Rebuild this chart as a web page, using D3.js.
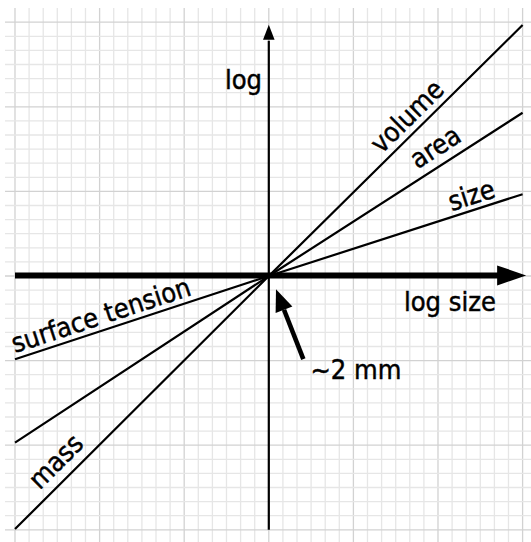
<!DOCTYPE html>
<html>
<head>
<meta charset="utf-8">
<script src="https://cdn.jsdelivr.net/npm/d3@7"></script>
<style>
  html, body { margin: 0; padding: 0; background: #ffffff; }
  svg { display: block; }
  text { font-family: "DejaVu Sans Condensed", "DejaVu Sans", sans-serif; font-stretch: condensed; fill: #000; stroke: #000; stroke-width: 0.45px; }
</style>
</head>
<body>
<script>
// ---- data (log-log units: x = log size, y = log quantity) ----
const xEnds = [-18, 18];
const seriesNames = ["volume", "area", "size"];
const volumeMass = [-17.95, 17.8];      // slope ~1  (volume right, mass left)
const areaVals = [-11.82, 11.58];       // slope ~2/3
const sizeTension = [-5.9, 5.8];        // slope ~1/3 (size right, surface tension left)
const labelTexts = ["volume", "area", "size", "surface tension", "mass"];
const labelAt = [8.35, 10.9, 13.1, -17.87, -15.75];   // position along x (log units)
const axisLabels = ["log", "log size", "~2 mm"];

const W = 531, H = 542;
const svg = d3.select("body").append("svg").attr("width", W).attr("height", H);
svg.append("rect").attr("width", W).attr("height", H).attr("fill", "#fff");

const x = d3.scaleLinear().domain([-18, 18]).range([15, 522.6]);
const y = d3.scaleLinear().domain([-18, 18]).range([529.8, 22.2]);

// ---- grid ----
const gridLeft = 5, gridTop = 8, gridRight = W, gridBottom = H;
const gx = d3.range(-18, 19);
const gy = d3.range(-19, 19);
const grid = svg.append("g");
grid.selectAll("line.v").data(gx).join("line")
  .attr("x1", d => x(d)).attr("x2", d => x(d))
  .attr("y1", gridTop).attr("y2", gridBottom)
  .attr("stroke", d => (d % 6 === 0) ? "#d2d2d2" : "#e6e6e6")
  .attr("stroke-width", 1.3);
grid.selectAll("line.h").data(gy).join("line")
  .attr("y1", d => y(d)).attr("y2", d => y(d))
  .attr("x1", gridLeft).attr("x2", gridRight)
  .attr("stroke", d => (d % 6 === 0) ? "#d2d2d2" : "#e6e6e6")
  .attr("stroke-width", 1.3);

// ---- lines ----
const series = [volumeMass, areaVals, sizeTension];
const lineGen = d3.line().x(d => x(d[0])).y(d => y(d[1]));
svg.append("g").selectAll("path").data(series).join("path")
  .attr("d", v => lineGen([[xEnds[0], v[0]], [0, 0], [xEnds[1], v[1]]]))
  .attr("fill", "none").attr("stroke", "#000").attr("stroke-width", 2.2);

// ---- axes ----
const ox = x(0), oy = y(0) - 0.6;
// horizontal thick axis with arrow
const hTip = x(18.25), hBase = hTip - 29;
svg.append("line").attr("x1", x(-18)).attr("x2", hBase + 1).attr("y1", oy).attr("y2", oy)
  .attr("stroke", "#000").attr("stroke-width", 6);
svg.append("path").attr("d", `M${hTip},${oy} L${hBase},${oy - 10} L${hBase},${oy + 10} Z`).attr("fill", "#000");
// vertical axis with arrow
const vTip = y(17.82), vBase = vTip + 15;
svg.append("line").attr("x1", ox).attr("x2", ox).attr("y1", y(-18)).attr("y2", vBase + 1)
  .attr("stroke", "#000").attr("stroke-width", 2.2);
svg.append("path").attr("d", `M${ox},${vTip} L${ox - 5.8},${vBase} L${ox + 5.8},${vBase} Z`).attr("fill", "#000");

// ---- pointer arrow to the origin (~2 mm) ----
const pTip = [x(0.51), y(-0.94)], pTail = [x(2.45), y(-5.9)];
const ang = Math.atan2(pTip[1] - pTail[1], pTip[0] - pTail[0]);
const headLen = 22, headHalf = 9;
const bx = pTip[0] - headLen * Math.cos(ang), by = pTip[1] - headLen * Math.sin(ang);
const nx = -Math.sin(ang), ny = Math.cos(ang);
svg.append("line").attr("x1", pTail[0]).attr("y1", pTail[1]).attr("x2", bx).attr("y2", by)
  .attr("stroke", "#000").attr("stroke-width", 4.6);
svg.append("path")
  .attr("d", `M${pTip[0]},${pTip[1]} L${bx + nx * headHalf},${by + ny * headHalf} L${bx - nx * headHalf},${by - ny * headHalf} Z`)
  .attr("fill", "#000");

// ---- labels along lines ----
const labelSeries = [volumeMass, areaVals, sizeTension, sizeTension, volumeMass];
const labelOffset = [7, 9, 5.5, 5.8, 10];
labelTexts.forEach((t, i) => {
  const v = labelSeries[i];
  const u = labelAt[i];
  const slope = u >= 0 ? v[1] / xEnds[1] : v[0] / xEnds[0];
  const px = x(u), py = y(slope * u);
  const a = Math.atan2(y(slope) - y(0), x(1) - x(0)) * 180 / Math.PI;
  svg.append("text")
    .attr("transform", `translate(${px},${py}) rotate(${a})`)
    .attr("y", -labelOffset[i])
    .attr("font-size", 27)
    .text(t);
});

// ---- axis labels ----
svg.append("text").attr("x", 225).attr("y", 89.3).attr("font-size", 27).text(axisLabels[0]);
svg.append("text").attr("x", 404).attr("y", 311).attr("font-size", 27).text(axisLabels[1]);
svg.append("text").attr("x", 310.5).attr("y", 379).attr("font-size", 27).text(axisLabels[2]);
</script>
</body>
</html>
